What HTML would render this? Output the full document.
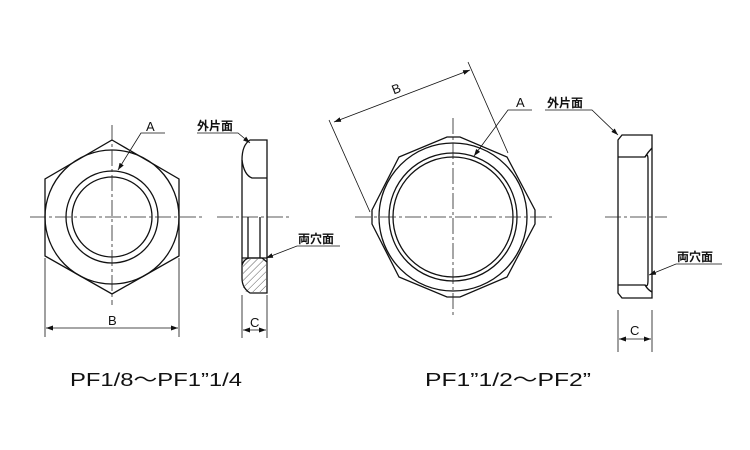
<!DOCTYPE html>
<html><head><meta charset="utf-8"><style>
html,body{margin:0;padding:0;background:#fff;}
svg{display:block}
text{font-family:"Liberation Sans","Noto Sans CJK JP",sans-serif;fill:#111}
</style></head><body>
<svg width="750" height="450" viewBox="0 0 750 450" xmlns="http://www.w3.org/2000/svg">
<defs>
<marker id="ar" viewBox="0 0 10 10" refX="10" refY="5" markerWidth="7" markerHeight="7" orient="auto-start-reverse" markerUnits="userSpaceOnUse"><path d="M0,1.5 L10,5 L0,8.5 z" fill="#111"/></marker>
<pattern id="hatch" width="5" height="5" patternUnits="userSpaceOnUse" patternTransform="rotate(45)"><line x1="0" y1="0" x2="0" y2="5" stroke="#333" stroke-width="0.8"/></pattern>
</defs>
<g fill="none" stroke="#111" stroke-width="1.3">
<polygon points="112,140 179,179 179,256 112,294 45,256 45,179"/>
<circle cx="112" cy="217" r="67"/>
<circle cx="112" cy="217" r="46"/>
<circle cx="112" cy="217" r="40"/>
<path d="M250,140 L267,140 L267,293 L250,293 Q242,288 242,278 L242,160 Q242,145 250,140 Z"/>
<path d="M242,160 Q244,175 252,178 L267,178"/>
<path d="M242,258 L247,258 L267,258"/>
<path d="M242,265 Q244,259 249,258 L262,258 L267,262"/>
<line x1="248" y1="217" x2="248" y2="258"/>
<line x1="260" y1="217" x2="260" y2="258"/>
<polygon points="447,137 460,137 507,157 535,210 535,224 507,277 460,297 447,297 399,277 372,224 372,210 399,157"/>
<circle cx="453" cy="217" r="74"/>
<circle cx="453" cy="217" r="64"/>
<circle cx="453" cy="217" r="60"/>
<path d="M622,135 L652,135 L652,298 L622,298 L618,293 L618,140 Z"/>
<path d="M618,157 L645,157 Q648,152 652,148"/>
<path d="M618,285 L645,285 Q648,290 652,292"/>
<path d="M645,157 Q648,152 648,160 L648,280 Q648,288 645,285"/>
</g>
<rect x="243" y="259" width="23" height="33" fill="url(#hatch)"/>
<g stroke="#222" stroke-width="0.8" stroke-dasharray="16,3,3,3" fill="none">
<line x1="30" y1="217" x2="203" y2="217"/>
<line x1="112" y1="125" x2="112" y2="305"/>
<line x1="217" y1="217" x2="290" y2="217"/>
<line x1="355" y1="217" x2="552" y2="217"/>
<line x1="453" y1="118" x2="453" y2="315"/>
<line x1="605" y1="217" x2="667" y2="217"/>
</g>
<g stroke="#111" stroke-width="0.8" fill="none">
<line x1="45" y1="258" x2="45" y2="337"/>
<line x1="179" y1="258" x2="179" y2="337"/>
<line x1="46" y1="328" x2="178" y2="328" marker-start="url(#ar)" marker-end="url(#ar)"/>
<line x1="242" y1="295" x2="242" y2="338"/>
<line x1="267" y1="295" x2="267" y2="338"/>
<line x1="243" y1="330" x2="266" y2="330" marker-start="url(#ar)" marker-end="url(#ar)"/>
<line x1="618" y1="310" x2="618" y2="352"/>
<line x1="652" y1="310" x2="652" y2="352"/>
<line x1="619" y1="339" x2="651" y2="339" marker-start="url(#ar)" marker-end="url(#ar)"/>
<line x1="329" y1="120" x2="370" y2="212"/>
<line x1="468" y1="62" x2="508" y2="153"/>
<line x1="334" y1="122" x2="470" y2="70" marker-start="url(#ar)" marker-end="url(#ar)"/>
<polyline points="165,133 141,133 118,170" marker-end="url(#ar)"/>
<polyline points="197,133 238,133 250,143" marker-end="url(#ar)"/>
<polyline points="340,246 297,246 266,258" marker-end="url(#ar)"/>
<polyline points="532,110 508,110 474,156" marker-end="url(#ar)"/>
<polyline points="545,110 592,110 618,135" marker-end="url(#ar)"/>
<polyline points="722,264 676,264 649,275" marker-end="url(#ar)"/>
</g>
<text x="146" y="131" font-size="13">A</text>
<text x="108" y="325" font-size="13">B</text>
<text x="250" y="327" font-size="13">C</text>
<text x="197" y="130" font-size="12" font-weight="bold">外片面</text>
<text x="298" y="243" font-size="12" font-weight="bold">両穴面</text>
<text x="516" y="107" font-size="13">A</text>
<text x="547" y="107" font-size="12" font-weight="bold">外片面</text>
<text x="677" y="261" font-size="12" font-weight="bold">両穴面</text>
<text x="630" y="335" font-size="13">C</text>
<text x="392" y="93" font-size="13" transform="rotate(-21 397 89)">B</text>
<text x="70" y="386" font-size="18" textLength="172" lengthAdjust="spacingAndGlyphs">PF1/8～PF1”1/4</text>
<text x="425" y="386" font-size="18" textLength="166" lengthAdjust="spacingAndGlyphs">PF1”1/2～PF2”</text>
</svg>
</body></html>
